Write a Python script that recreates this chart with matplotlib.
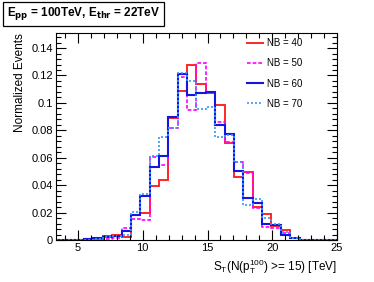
import numpy as np
import matplotlib
matplotlib.use("Agg")
import matplotlib.pyplot as plt
from matplotlib.ticker import MultipleLocator

plt.rcParams['font.family'] = ['Liberation Sans', 'DejaVu Sans']

x_min, x_max, n_bins = 3.3, 25.0, 30
edges = np.linspace(x_min, x_max, n_bins + 1)

labels = ["NB = 40", "NB = 50", "NB = 60", "NB = 70"]

nb40 = [0, 0, 0, 0.0003, 0.0005, 0.003, 0.0035, 0.002, 0.018, 0.020,
        0.0395, 0.044, 0.0888, 0.1088, 0.1277, 0.1139, 0.1075, 0.0985, 0.0706, 0.0457,
        0.0494, 0.024, 0.019, 0.0105, 0.0075, 0.0015, 0.0003, 0, 0, 0]
nb50 = [0, 0, 0, 0.0003, 0.0005, 0.001, 0.0015, 0.009, 0.015, 0.0146,
        0.0605, 0.0547, 0.0815, 0.119, 0.095, 0.129, 0.107, 0.0864, 0.0712, 0.057,
        0.0487, 0.0236, 0.0097, 0.0085, 0.005, 0.0015, 0.0003, 0, 0, 0]
nb60 = [0, 0, 0, 0.0008, 0.0012, 0.0024, 0.003, 0.0066, 0.018, 0.0324,
        0.0535, 0.0613, 0.090, 0.121, 0.1058, 0.107, 0.1078, 0.084, 0.077, 0.0504,
        0.031, 0.027, 0.0114, 0.011, 0.004, 0.0015, 0.0003, 0, 0, 0]
nb70 = [0, 0, 0, 0.0003, 0.0008, 0.002, 0.003, 0.004, 0.0205, 0.0336,
        0.061, 0.0754, 0.0815, 0.1217, 0.116, 0.0956, 0.0973, 0.0754, 0.0766, 0.057,
        0.0255, 0.030, 0.016, 0.012, 0.006, 0.0015, 0.0003, 0, 0, 0]

series = [nb40, nb50, nb60, nb70]
colors = ["#ff2525", "#ff00ff", "#1515e0", "#3399ff"]
styles = ["-", (0, (2.2, 1.2)), "-", (0, (1.2, 1.2))]
widths = [1.4, 1.2, 1.5, 1.2]

W, H = 374, 282
fig = plt.figure(figsize=(W / 100, H / 100), dpi=100)
L, R, T, B = 56, 337, 33, 240
ax = fig.add_axes([L / W, 1 - B / H, (R - L) / W, (B - T) / H])

for vals, c, ls, lw, lab in zip(series, colors, styles, widths, labels):
    ax.stairs(vals, edges, color=c, linestyle=ls, linewidth=lw, label=lab)

ax.set_xlim(x_min, x_max)
ax.set_ylim(0, 0.151)
ax.xaxis.set_major_locator(MultipleLocator(5))
ax.xaxis.set_minor_locator(MultipleLocator(1))
ax.yaxis.set_major_locator(MultipleLocator(0.02))
ax.yaxis.set_minor_locator(MultipleLocator(0.004))
ax.set_yticks([0, 0.02, 0.04, 0.06, 0.08, 0.1, 0.12, 0.14])
ax.set_yticklabels(["0", "0.02", "0.04", "0.06", "0.08", "0.1", "0.12", "0.14"])
ax.tick_params(which='both', direction='in', top=True, right=True, labelsize=8, pad=2)
ax.tick_params(which='major', length=7, width=0.8)
ax.tick_params(which='minor', length=3.5, width=0.8)
for s in ax.spines.values():
    s.set_linewidth(0.8)

ax.set_ylabel("Normalized Events", fontsize=8.5, loc='top', labelpad=4)
ax.set_xlabel(r"S$_{\mathregular{T}}$(N(p$_{\mathregular{T}}^{\mathregular{100}}$) >= 15) [TeV]",
              fontsize=8.5, loc='right', labelpad=3)

leg = ax.legend(loc='upper left', bbox_to_anchor=(0.68, 0.975), frameon=False,
                borderpad=0, borderaxespad=0,
                fontsize=7, handlelength=1.65, handletextpad=0.4, labelspacing=1.05)

fig.text(7 / W, 1 - 14 / H,
         r"E$_{\mathbf{pp}}$ = 100TeV, E$_{\mathbf{thr}}$ = 22TeV",
         fontsize=8.5, fontweight='bold', va='center', ha='left',
         bbox=dict(boxstyle='square,pad=0.3', fc='white', ec='black', lw=0.9))

fig.savefig("out.png", dpi=100)
